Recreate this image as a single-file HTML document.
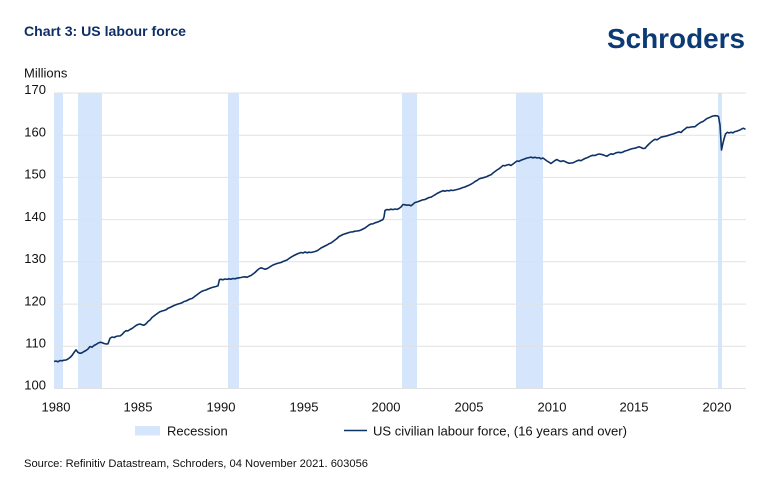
<!DOCTYPE html>
<html>
<head>
<meta charset="utf-8">
<style>
  html,body{margin:0;padding:0;background:#fff;}
  svg{display:block;}
  text{font-family:"Liberation Sans",sans-serif;}
</style>
</head>
<body>
<svg width="770" height="492" viewBox="0 0 770 492" xmlns="http://www.w3.org/2000/svg">
  <rect width="770" height="492" fill="#fff"/>
  <!-- Title -->
  <text x="24" y="36" font-size="14" font-weight="bold" fill="#0e2f66" textLength="162" lengthAdjust="spacingAndGlyphs">Chart 3: US labour force</text>
  <!-- Logo -->
  <text x="607" y="48" font-size="28" font-weight="bold" fill="#0b3a75" textLength="138" lengthAdjust="spacingAndGlyphs">Schroders</text>
  <!-- Millions -->
  <text x="24" y="77.5" font-size="13" fill="#111">Millions</text>

  <!-- Recession bands -->
  <g fill="#d5e5fc">
    <rect x="54" y="93" width="9" height="295.5"/>
    <rect x="78" y="93" width="24" height="295.5"/>
    <rect x="228" y="93" width="11" height="295.5"/>
    <rect x="402" y="93" width="15" height="295.5"/>
    <rect x="516" y="93" width="27" height="295.5"/>
    <rect x="718" y="93" width="4" height="295.5"/>
  </g>

  <!-- Gridlines -->
  <g stroke="#e2e2e2" stroke-width="1">
    <line x1="54" x2="746" y1="93" y2="93"/>
    <line x1="54" x2="746" y1="135.2" y2="135.2"/>
    <line x1="54" x2="746" y1="177.4" y2="177.4"/>
    <line x1="54" x2="746" y1="219.6" y2="219.6"/>
    <line x1="54" x2="746" y1="261.8" y2="261.8"/>
    <line x1="54" x2="746" y1="304.1" y2="304.1"/>
    <line x1="54" x2="746" y1="346.3" y2="346.3"/>
    <line x1="54" x2="746" y1="388.5" y2="388.5"/>
  </g>

  <!-- Y labels -->
  <g font-size="13" fill="#111" text-anchor="end">
    <text x="46" y="94.2">170</text>
    <text x="46" y="136.4">160</text>
    <text x="46" y="178.6">150</text>
    <text x="46" y="220.8">140</text>
    <text x="46" y="263">130</text>
    <text x="46" y="305.3">120</text>
    <text x="46" y="347.5">110</text>
    <text x="46" y="389.7">100</text>
  </g>

  <!-- X labels -->
  <g font-size="13" fill="#111" text-anchor="middle">
    <text x="56" y="411.5">1980</text>
    <text x="138" y="411.5">1985</text>
    <text x="221" y="411.5">1990</text>
    <text x="304" y="411.5">1995</text>
    <text x="386" y="411.5">2000</text>
    <text x="469" y="411.5">2005</text>
    <text x="552" y="411.5">2010</text>
    <text x="634" y="411.5">2015</text>
    <text x="717" y="411.5">2020</text>
  </g>

  <!-- Series -->
  <polyline fill="none" stroke="#0e3266" stroke-width="1.6" stroke-linejoin="round" points="
54,361.5 56,361 58,361.8 60,360.5 62,360.8 64,360.2 66,360 68,359 70,357.5 72,355.5 74,352.5 76,349.8 78,352.5 80,353.3 82,352.8 84,351.5 86,350.5 88,349 90,346.5 92,347.2 94,345.5 96,344.5 98,343.2 100,342.3 102,342.6 104,343.5 106,344 108,343.8 110,338.3 112,337 114,337.5 116,336.5 118,336 120,336 122,334.5 124,332.3 126,330.7 128,330.9 130,329.5 132,328.5 134,327 136,325.5 138,324.5 140,324 142,324.8 144,325.2 146,323.8 148,321.5 150,320 152,317.5 154,316 156,314.5 158,313 160,311.7 162,311 164,310.5 166,309.8 168,308.3 170,307.5 172,306.5 174,305.5 176,304.8 178,304 180,303.5 182,302.8 184,301.5 186,301 188,300 190,299 192,298.5 194,297 196,295.5 198,294 200,292.5 202,291.2 204,290.5 206,290 208,289 210,288.2 212,287.5 214,287 216,286.5 218,285.8 219.5,279.5 221,279.3 223,279.8 225,279 227,279.4 229,278.8 231,279.2 233,278.5 235,278.8 237,278.2 239,277.8 241,277.5 243,277 245,276.8 247,277.3 249,276.3 251,275.5 253,274 255,272.5 257,270.5 259,268.8 261,267.8 263,268.5 265,269.2 267,268.7 269,267.5 271,266.2 273,265 275,264.2 277,263.5 279,263 281,262.5 283,261.5 285,260.8 287,260 289,258.5 291,257.2 293,256 295,255 297,254 299,253.2 301,252.5 303,253 305,252 307,252.8 309,252.2 311,252.5 313,252 315,251.5 317,250.8 319,249.5 321,248 323,247 325,246 327,245 329,243.8 331,243 333,241.5 335,240 337,238.5 339,236.5 341,235.5 343,234.5 345,233.8 347,233.2 349,232.5 351,232 353,231.8 355,231.2 357,231 359,230.7 361,230 363,229 365,228 367,226.5 369,225 371,224 373,223.8 375,222.8 377,222.2 379,221.5 381,220.5 383,219.5 384,217 385,210.5 387,209.5 389,209.8 391,209.2 393,209.6 395,209 397,209.4 399,208.5 401,207 403,204.5 405,204.8 407,205.2 409,205 411,205.8 413,204.2 415,202.5 417,202 419,201.3 421,200.5 423,199.8 425,199.5 427,198.5 429,197.5 431,197.2 433,196 435,194.8 437,193.5 439,192.5 441,191.5 443,190.7 445,191.2 447,190.5 449,190.8 451,190.2 453,190.5 455,190 457,189.5 459,189 461,188.3 463,187.5 465,187 467,186 469,185.2 471,184.2 473,183 475,181.5 477,180.5 479,179 481,178.2 483,177.8 485,177.2 487,176.5 489,175.5 491,174.8 493,173 495,171.5 497,170 499,168.8 501,167.2 503,165.5 505,165.8 507,165 509,164.5 511,165.5 513,164 515,162.5 517,161 519,161.3 521,160.2 523,159.5 525,158.8 527,158 529,157.6 531,157.2 533,157.8 535,157.3 537,158 539,157.6 541,158.8 543,158 545,159.5 547,161 549,162.2 551,163.5 553,162 555,160.5 557,159.5 559,160.8 561,161.5 563,160.8 565,161.5 567,162.5 569,163.3 571,163 573,162.8 575,161.8 577,160.8 579,160.2 581,160.7 583,159.5 585,158.5 587,157.8 589,156.8 591,155.8 593,155.3 595,155.5 597,154.6 599,154 601,154.3 603,154.8 605,155.6 607,156.2 609,154.8 611,153.8 613,154.3 615,153.3 617,152.5 619,152.3 621,152.7 623,152 625,151 627,150.5 629,149.8 631,149 633,148.5 635,148.2 637,147.5 639,146.8 641,147.5 643,148.5 645,148.3 647,146 649,144 651,142.2 653,140.5 655,139.3 657,139.8 659,138.5 661,137.2 663,136.7 665,136.3 667,135.8 669,135.2 671,134.5 673,134 675,133.2 677,132.5 679,131.7 681,132.5 683,130.5 685,129 687,127.3 689,127.5 691,127 693,126.8 695,126.7 697,125 699,123.5 701,122.3 703,121.5 705,120 707,118.5 709,117.7 711,116.8 713,116 715,115.7 717,115.8 718.5,116.5 720,125 721.5,150 723,143 724,139 725.5,134 727.3,132.3 729,133 731,132.3 733,132.8 735,131.5 737,131.2 738.5,130.5 740,130 742,128.8 743.5,128.3 745.5,129.3"/>

  <!-- Legend -->
  <rect x="135" y="426" width="25" height="9.5" fill="#d5e5fc"/>
  <text x="167" y="435.5" font-size="13" fill="#111">Recession</text>
  <line x1="344" x2="367" y1="430.5" y2="430.5" stroke="#0e3266" stroke-width="1.6"/>
  <text x="373" y="435.5" font-size="13" fill="#111" textLength="254" lengthAdjust="spacingAndGlyphs">US civilian labour force, (16 years and over)</text>

  <!-- Source -->
  <text x="24" y="467" font-size="11" fill="#111" textLength="344" lengthAdjust="spacingAndGlyphs">Source: Refinitiv Datastream, Schroders, 04 November 2021. 603056</text>
</svg>
</body>
</html>
